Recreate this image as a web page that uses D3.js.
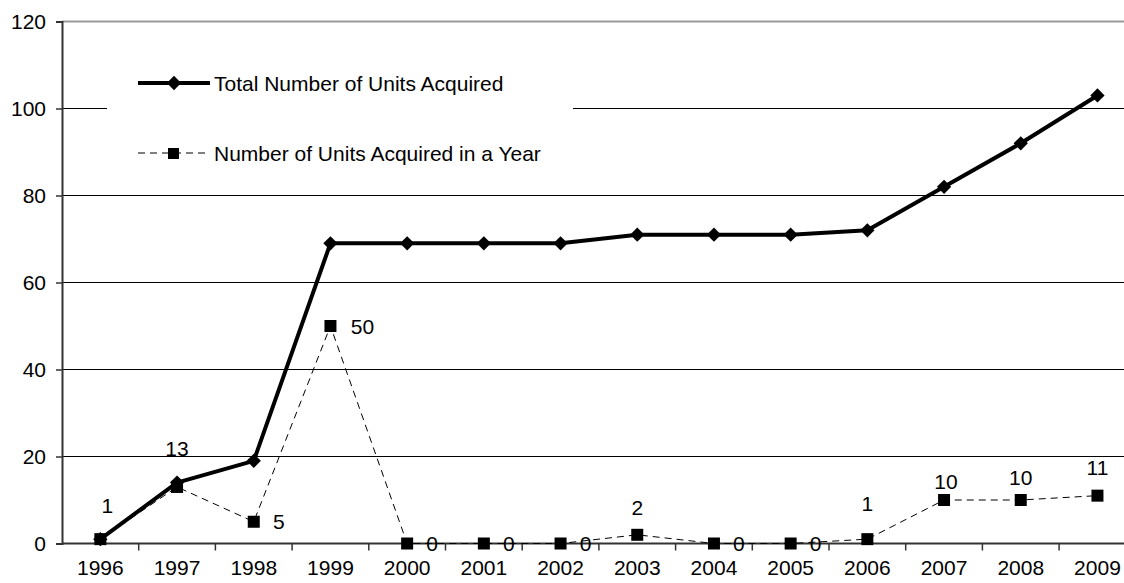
<!DOCTYPE html>
<html><head><meta charset="utf-8">
<script src="https://cdn.jsdelivr.net/npm/d3@7"></script>
<style>body{margin:0;background:#fff;} text{font-family:"Liberation Sans",Arial,sans-serif;}</style>
</head><body>
<svg id="c" width="1124" height="583"></svg>
<script>
const years = ["1996","1997","1998","1999","2000","2001","2002","2003","2004","2005","2006","2007","2008","2009"];
const totalUnits = [1,14,19,69,69,69,69,71,71,71,72,82,92,103];
const yearlyUnits = [1,13,5,50,0,0,0,2,0,0,1,10,10,11];
const yTicks = [0,20,40,60,80,100,120];
const seriesNames = ["Total Number of Units Acquired","Number of Units Acquired in a Year"];
// label placement (pixel offsets from marker), styling only
const labelOffsets = [[7,-34],[0,-38],[25,0],[32,0],[25,0],[25,0],[25,0],[0,-27],[25,0],[25,0],[0,-36],[2,-19],[0,-23],[0,-28]];

const svg = d3.select("#c");
const L = 62, T = 21.5, B = 543.5, band = 76.7;
const x = d3.scaleBand().domain(years).range([L, L + band*years.length]).padding(0);
const y = d3.scaleLinear().domain([0,120]).range([B, T]);
const cx = d => x(d) + x.bandwidth()/2;
const fs = 21;
const ff = "Liberation Sans, Arial, sans-serif";

// gridlines
svg.append("g").selectAll("line").data(yTicks.filter(v => v>0 && v<120)).join("line")
  .attr("x1", L).attr("x2", 1124).attr("y1", d=>y(d)).attr("y2", d=>y(d))
  .attr("stroke","#000").attr("stroke-width",1.2);
// top border
svg.append("line").attr("x1",L).attr("x2",1124).attr("y1",y(120)).attr("y2",y(120))
  .attr("stroke","#999").attr("stroke-width",2);

// y axis
const yAxis = d3.axisLeft(y).tickValues(yTicks).tickSize(6).tickPadding(10);
const gy = svg.append("g").attr("transform",`translate(${L},0)`).call(yAxis);
gy.select(".domain").attr("stroke","#333").attr("stroke-width",2);
gy.selectAll(".tick line").attr("stroke","#333").attr("stroke-width",1.5);
gy.selectAll("text").attr("font-size",fs).attr("fill","#000").attr("font-family",ff);

// x axis
const xAxis = d3.axisBottom(x).tickSize(0).tickPadding(17);
const gx = svg.append("g").attr("transform",`translate(0,${B})`).call(xAxis);
gx.select(".domain").remove();
gx.append("line").attr("x1",L).attr("x2",1124).attr("y1",0).attr("y2",0).attr("stroke","#333").attr("stroke-width",2);
gx.selectAll(".bnd").data(years.slice(1)).join("line").attr("class","bnd")
  .attr("x1",d=>x(d)).attr("x2",d=>x(d)).attr("y1",0).attr("y2",7).attr("stroke","#333").attr("stroke-width",1.5);
gx.selectAll(".tick text").attr("font-size",fs).attr("fill","#000").attr("font-family",ff);

// legend box
svg.append("rect").attr("x",107).attr("y",58).attr("width",466).attr("height",120).attr("fill","#fff");

const line = d3.line().x((d,i)=>cx(years[i])).y(d=>y(d));

// total series
svg.append("path").datum(totalUnits).attr("d",line).attr("fill","none").attr("stroke","#000").attr("stroke-width",4).attr("stroke-linejoin","round");
const diamond = d3.symbol().type(d3.symbolDiamond2).size(130);

// yearly series
svg.append("path").datum(yearlyUnits).attr("d",line).attr("fill","none").attr("stroke","#000").attr("stroke-width",1).attr("stroke-dasharray","7,5");

svg.append("g").selectAll("path").data(totalUnits).join("path")
  .attr("d",diamond).attr("transform",(d,i)=>`translate(${cx(years[i])},${y(d)})`).attr("fill","#000");
svg.append("g").selectAll("rect").data(yearlyUnits).join("rect")
  .attr("x",(d,i)=>cx(years[i])-6).attr("y",d=>y(d)-6).attr("width",12).attr("height",12).attr("fill","#000");

// data labels
svg.append("g").selectAll("text").data(yearlyUnits).join("text")
  .attr("x",(d,i)=>cx(years[i])+labelOffsets[i][0]).attr("y",(d,i)=>y(d)+labelOffsets[i][1])
  .attr("text-anchor","middle").attr("dominant-baseline","central").attr("font-size",fs).attr("fill","#000")
  .text(d=>d);

// legend
const lg = svg.append("g");
lg.append("line").attr("x1",138).attr("x2",210).attr("y1",83).attr("y2",83).attr("stroke","#000").attr("stroke-width",4);
lg.append("path").attr("d",diamond).attr("transform","translate(174,83)");
lg.append("text").attr("x",214).attr("y",83).attr("dominant-baseline","central").attr("font-size",fs).text(seriesNames[0]);
lg.append("line").attr("x1",138).attr("x2",210).attr("y1",153).attr("y2",153).attr("stroke","#000").attr("stroke-width",1).attr("stroke-dasharray","7,5");
lg.append("rect").attr("x",168).attr("y",148).attr("width",11).attr("height",11);
lg.append("text").attr("x",214).attr("y",153).attr("dominant-baseline","central").attr("font-size",fs).text(seriesNames[1]);
</script>
</body></html>
